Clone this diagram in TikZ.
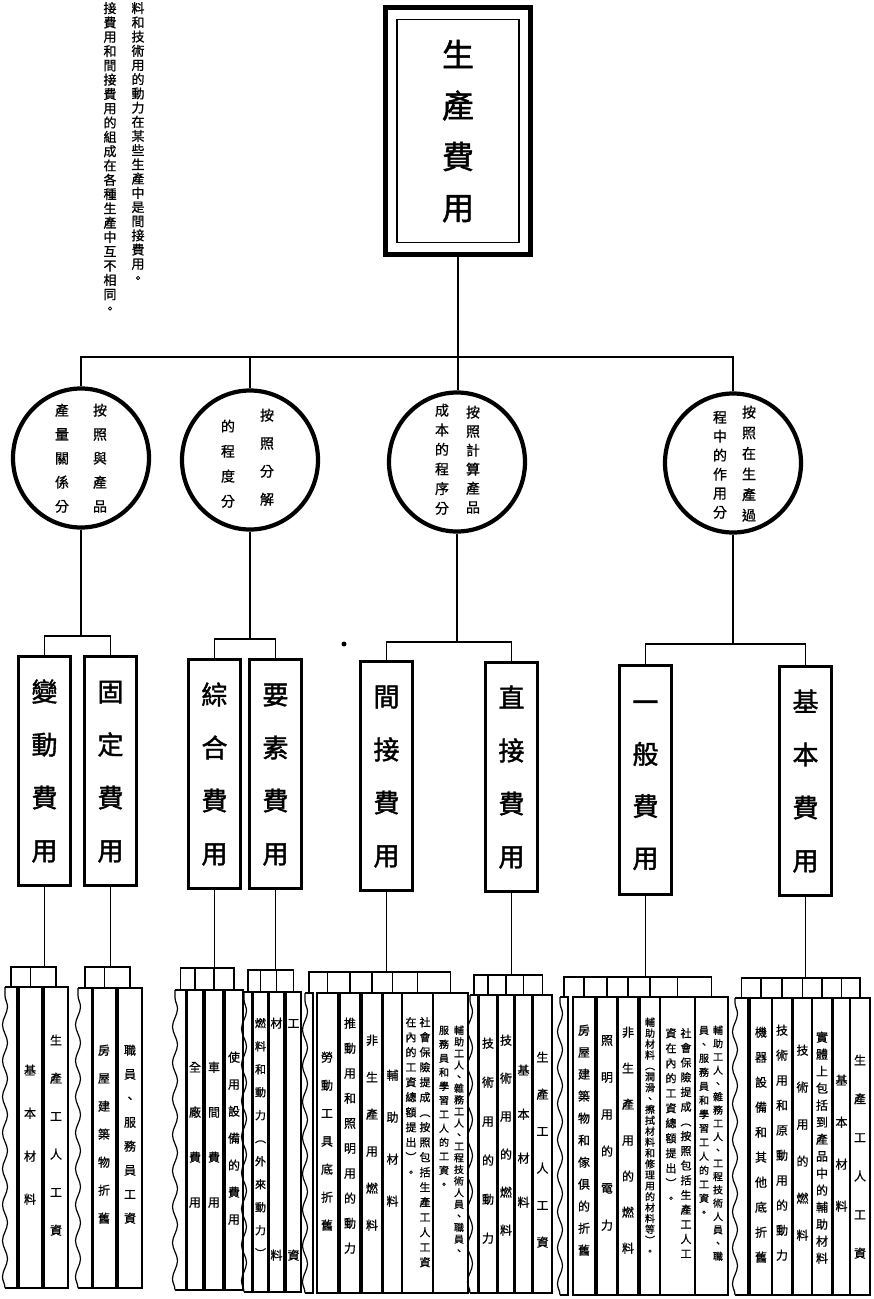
\documentclass[tikz,border=0pt]{standalone}
\usepackage{fontspec}
\newfontfamily\cjk{Noto Sans CJK TC}[FakeBold=0.8]
\newfontfamily\cjkb{Noto Sans CJK TC}[FakeBold=1.5]
\usepackage{tikz}
\usetikzlibrary{shapes.geometric,fit,decorations.pathmorphing}

%% vertical column of characters, #1 = pitch
\newcommand\vcol[2]{{\baselineskip=#1\relax\lineskiplimit=-\maxdimen\vbox{\vcolstep#2\relax}}}
\def\vcolstep#1{\ifx\relax#1\else\hbox to 1em{\vrule width 0pt height .88em depth .12em\hss\smash{#1}\hss}\expandafter\vcolstep\fi}

%% strip with a torn (wavy) left edge: name, left, right, top, bottom
\newcommand\wavystrip[5]{%
  \draw[strip] (#2,#4) -- (#3,#4) -- (#3,#5) -- (#2,#5);
  \draw[strip, decorate, decoration={snake, amplitude=2.5pt, segment length=36pt}] (#2,#5) -- (#2,#4);
  \coordinate (#1) at ({(#2+#3)/2},#4);}

\begin{document}
\begin{tikzpicture}[
  x=1pt, y=-1pt,
  conn/.style={line width=1.8pt},
  titlebox/.style={rectangle, draw, line width=5pt, minimum width=145pt, minimum height=247pt, inner sep=0pt, font=\cjkb\fontsize{32pt}{32pt}\selectfont},
  titleframe/.style={rectangle, draw, line width=1.6pt, minimum width=122pt, minimum height=223pt},
  kind/.style={ellipse, draw, line width=4.2pt, minimum width=136pt, minimum height=139pt, inner sep=0pt},
  kindtext/.style={anchor=north, inner sep=0pt, font=\cjk\fontsize{14pt}{14pt}\selectfont},
  costbox/.style={rectangle, draw, line width=3pt, minimum width=52pt, minimum height=229pt, inner sep=0pt, font=\cjkb\fontsize{26pt}{26pt}\selectfont},
  strip/.style={draw, line width=1.2pt, inner sep=0pt},
  leaf/.style={anchor=north, inner sep=0pt, font=\cjk\fontsize{12pt}{12pt}\selectfont},
  leafmid/.style={leaf, font=\cjk\fontsize{11pt}{11pt}\selectfont},
  leafsmall/.style={leaf, font=\cjk\fontsize{10pt}{10pt}\selectfont},
  note/.style={leaf, font=\cjk\fontsize{13pt}{13pt}\selectfont},
]
\path[use as bounding box, fill=white] (0,0) rectangle (874,1299);

%% --- Note (top left) ---
\node[note] (noteR) at (138,1.5) {\vcol{14.2pt}{料和技術用的動力在某些生產中是間接費用。}};
\node[note] (noteL) at (110,1.5) {\vcol{14.3pt}{接費用和間接費用的組成在各種生產中互不相同。}};

%% --- Title ---
\node[titlebox] (cost) at (458,131) {\vcol{51pt}{生產費用}};
\node[titleframe] (costin) at (cost.center) {};

%% --- Ways of dividing (ellipses) ---
\node[kind] (k1) at (81,458) {};
\node[kind] (k2) at (250,460) {};
\node[kind] (k3) at (457,462) {};
\node[kind] (k4) at (733,463) {};
\node[kindtext] (k1r) at (100,403) {\vcol{24pt}{按照與產品}};
\node[kindtext] (k1l) at (62,403)  {\vcol{24pt}{產量關係分}};
\node[kindtext] (k2r) at (267,408) {\vcol{28pt}{按照分解}};
\node[kindtext] (k2l) at (228,419) {\vcol{25pt}{的程度分}};
\node[kindtext] (k3r) at (473,405) {\vcol{19pt}{按照計算產品}};
\node[kindtext] (k3l) at (442,403) {\vcol{19.6pt}{成本的程序分}};
\node[kindtext] (k4r) at (749,405) {\vcol{20.6pt}{按照在生產過}};
\node[kindtext] (k4l) at (720,410) {\vcol{19pt}{程中的作用分}};

\coordinate (bar) at (81,357);
\draw[conn] (cost.south) -- (cost.south |- k3.north);
\draw[conn] (k1.north) -- (bar) -| (k4.north);
\draw[conn] (k2.north) -- (k2.north |- bar);

%% --- Kinds of cost ---
\node[costbox] (b11) at (44.5,771)  {\vcol{53pt}{變動費用}};
\node[costbox] (b12) at (110.5,771) {\vcol{53pt}{固定費用}};
\node[costbox] (b21) at (214.5,774) {\vcol{53pt}{綜合費用}};
\node[costbox] (b22) at (275.5,774) {\vcol{53pt}{要素費用}};
\node[costbox] (b31) at (386.5,776) {\vcol{53pt}{間接費用}};
\node[costbox] (b32) at (511.5,777) {\vcol{53pt}{直接費用}};
\node[costbox] (b41) at (645.5,780) {\vcol{52pt}{一般費用}};
\node[costbox] (b42) at (805.5,781) {\vcol{53pt}{基本費用}};
\fill (344,644) circle (2.5pt);

\coordinate (j1) at (81,636);
\coordinate (j2) at (250,639);
\coordinate (j3) at (457,642);
\coordinate (j4) at (733,644);
\draw[conn] (k1.south) -- (j1);
\draw[conn] (k2.south) -- (j2);
\draw[conn] (k3.south) -- (j3);
\draw[conn] (k4.south) -- (j4);
\draw[conn] (b11.north) |- (j1) -| (b12.north);
\draw[conn] (b21.north) |- (j2) -| (b22.north);
\draw[conn] (b31.north) |- (j3) -| (b32.north);
\draw[conn] (b41.north) |- (j4) -| (b42.north);

%% --- Items: strips ---
\wavystrip{w1}{5}{17}{987}{1288}
\foreach \n/\a/\b in {g1a/19/42, g1b/44/68}
  \node[strip, fit={(\a,987) (\b,1288)}] (\n) {};
\wavystrip{w2}{78}{92}{988}{1288}
\foreach \n/\a/\b in {g2a/93/116, g2b/118/142}
  \node[strip, fit={(\a,988) (\b,1288)}] (\n) {};
\wavystrip{w3}{175}{186}{990}{1290}
\foreach \n/\a/\b in {g3a/187/203, g3b/205/223, g3c/225/243}
  \node[strip, fit={(\a,990) (\b,1290)}] (\n) {};
\wavystrip{w4}{244}{252}{992}{1292}
\foreach \n/\a/\b in {g4a/253/268, g4b/269/284, g4c/286/301}
  \node[strip, fit={(\a,992) (\b,1292)}] (\n) {};
\wavystrip{w5}{305}{313}{993}{1293}
\foreach \n/\a/\b in {g5a/317/338, g5b/340/360, g5c/362/382, g5d/383/402, g5e/402/433, g5f/433/468}
  \node[strip, fit={(\a,993) (\b,1293)}] (\n) {};
\wavystrip{w6}{470}{478}{995}{1293}
\foreach \n/\a/\b in {g6a/479/497, g6b/498/514, g6c/515/532, g6d/533/552}
  \node[strip, fit={(\a,995) (\b,1293)}] (\n) {};
\wavystrip{w7}{560}{568}{997}{1295}
\foreach \n/\a/\b in {g7a/573/595, g7b/597/617, g7c/618/638, g7d/640/660, g7e/660/695, g7f/695/728}
  \node[strip, fit={(\a,997) (\b,1295)}] (\n) {};
\wavystrip{w8}{735}{748}{998}{1295}
\foreach \n/\a/\b in {g8a/750/772, g8b/772/792, g8c/793/812, g8d/812/832, g8e/833/850, g8f/850/870}
  \node[strip, fit={(\a,998) (\b,1295)}] (\n) {};

%% --- Items: brackets ---
\coordinate (m1) at (b11.south |- 0,967);
\coordinate (m2) at (b12.south |- 0,967);
\coordinate (m3) at (b21.south |- 0,968);
\coordinate (m4) at (b22.south |- 0,970);
\coordinate (m5) at (b31.south |- 0,972);
\coordinate (m6) at (b32.south |- 0,975);
\coordinate (m7) at (b41.south |- 0,977);
\coordinate (m8) at (b42.south |- 0,978);
\foreach \b/\m in {b11/m1, b12/m2, b21/m3, b22/m4, b31/m5, b32/m6, b41/m7, b42/m8}
  \draw[conn] (\b.south) -- (\m);
\draw[conn] (w1) |- (m1) -| (g1b.north);
\draw[conn] (w2) |- (m2) -| (g2b.north);
\draw[conn] (w3) |- (m3) -| (g3c.north);
\draw[conn] (w4) |- (m4) -| (g4c.north);
\draw[conn] (w5) |- (m5) -| (g5f.north);
\draw[conn] (w6) |- (m6) -| (g6d.north);
\draw[conn] (w7) |- (m7) -| (g7f.north);
\draw[conn] (w8) |- (m8) -| (g8f.north);
\foreach \s/\m in {g1a/m1, g2a/m2, g3a/m3, g3b/m3, g4a/m4, g4b/m4,
                   g5a/m5, g5b/m5, g5c/m5, g5d/m5, g5e/m5,
                   g6a/m6, g6b/m6, g6c/m6,
                   g7a/m7, g7b/m7, g7c/m7, g7d/m7, g7e/m7,
                   g8a/m8, g8b/m8, g8c/m8, g8d/m8, g8e/m8}
  \draw[conn] (\s.north) -- (\s.north |- \m);

%% --- Items: texts ---
\node[leaf] (t1a) at (30,1064) {\vcol{43pt}{基本材料}};
\node[leaf] (t1b) at (56,1034) {\vcol{38pt}{生產工人工資}};
\node[leaf] (t2a) at (104,1044) {\vcol{28pt}{房屋建築物折舊}};
\node[leaf] (t2b) at (130,1044) {\vcol{24pt}{職員、服務員工資}};
\node[leaf] (t3a) at (195,1061) {\vcol{45pt}{全廠費用}};
\node[leaf] (t3b) at (214,1061) {\vcol{45pt}{車間費用}};
\node[leaf] (t3c) at (234,1051) {\vcol{27pt}{使用設備的費用}};
\node[leafmid] (t4a) at (260.5,1017.5) {\vcol{23pt}{燃料和動力︵外來動力︶}};
\node[leaf] (t4b) at (276.5,1017) {\vcol{232pt}{材料}};
\node[leaf] (t4c) at (293.5,1017) {\vcol{232pt}{工資}};
\node[leaf] (t5a) at (327,1051) {\vcol{28pt}{勞動工具底折舊}};
\node[leaf] (t5b) at (350,1017) {\vcol{25pt}{推動用和照明用的動力}};
\node[leaf] (t5c) at (372,1034) {\vcol{37pt}{非生產用燃料}};
\node[leaf] (t5d) at (392.5,1069) {\vcol{42pt}{輔助材料}};
\node[leafmid] (t5er) at (425,1016.5) {\vcol{15pt}{社會保險提成︵按照包括生產工人工資}};
\node[leafmid] (t5el) at (411,1016.5) {\vcol{15pt}{在內的工資總額提出︶。}};
\node[leafsmall] (t5fr) at (459,1025) {\vcol{11.6pt}{輔助工人、雜務工人、工程技術人員、職員、}};
\node[leafsmall] (t5fl) at (444,1025) {\vcol{14pt}{服務員和學習工人的工資。}};
\node[leaf] (t6a) at (488,1037) {\vcol{39pt}{技術用的動力}};
\node[leaf] (t6b) at (506,1034) {\vcol{38pt}{技術用的燃料}};
\node[leaf] (t6c) at (523.5,1064) {\vcol{44pt}{基本材料}};
\node[leaf] (t6d) at (542.5,1051) {\vcol{37pt}{生產工人工資}};
\node[leaf] (t7a) at (584,1024) {\vcol{22pt}{房屋建築物和傢俱的折舊}};
\node[leaf] (t7b) at (607,1034) {\vcol{37pt}{照明用的電力}};
\node[leaf] (t7c) at (628,1026) {\vcol{36pt}{非生產用的燃料}};
\node[leafsmall] (t7d) at (650,1017) {\vcol{10.9pt}{輔助材料︵潤滑、擦拭材料和修理用的材料等︶。}};
\node[leafmid] (t7er) at (686,1027.5) {\vcol{14.7pt}{社會保險提成︵按照包括生產工人工}};
\node[leafmid] (t7el) at (671,1027.5) {\vcol{15pt}{資在內的工資總額提出︶。}};
\node[leafsmall] (t7fr) at (718,1025) {\vcol{13.3pt}{輔助工人、雜務工人、工程技術人員、職}};
\node[leafsmall] (t7fl) at (704,1025) {\vcol{14pt}{員、服務員和學習工人的工資。}};
\node[leaf] (t8a) at (761,1026) {\vcol{25pt}{機器設備和其他底折舊}};
\node[leaf] (t8b) at (782,1024) {\vcol{25pt}{技術用和原動用的動力}};
\node[leaf] (t8c) at (802.5,1044) {\vcol{37pt}{技術用的燃料}};
\node[leaf] (t8d) at (822,1031) {\vcol{17pt}{實體上包括到產品中的輔助材料}};
\node[leaf] (t8e) at (841.5,1074) {\vcol{42pt}{基本材料}};
\node[leaf] (t8f) at (860,1054) {\vcol{38.6pt}{生產工人工資}};

\end{tikzpicture}
\end{document}
